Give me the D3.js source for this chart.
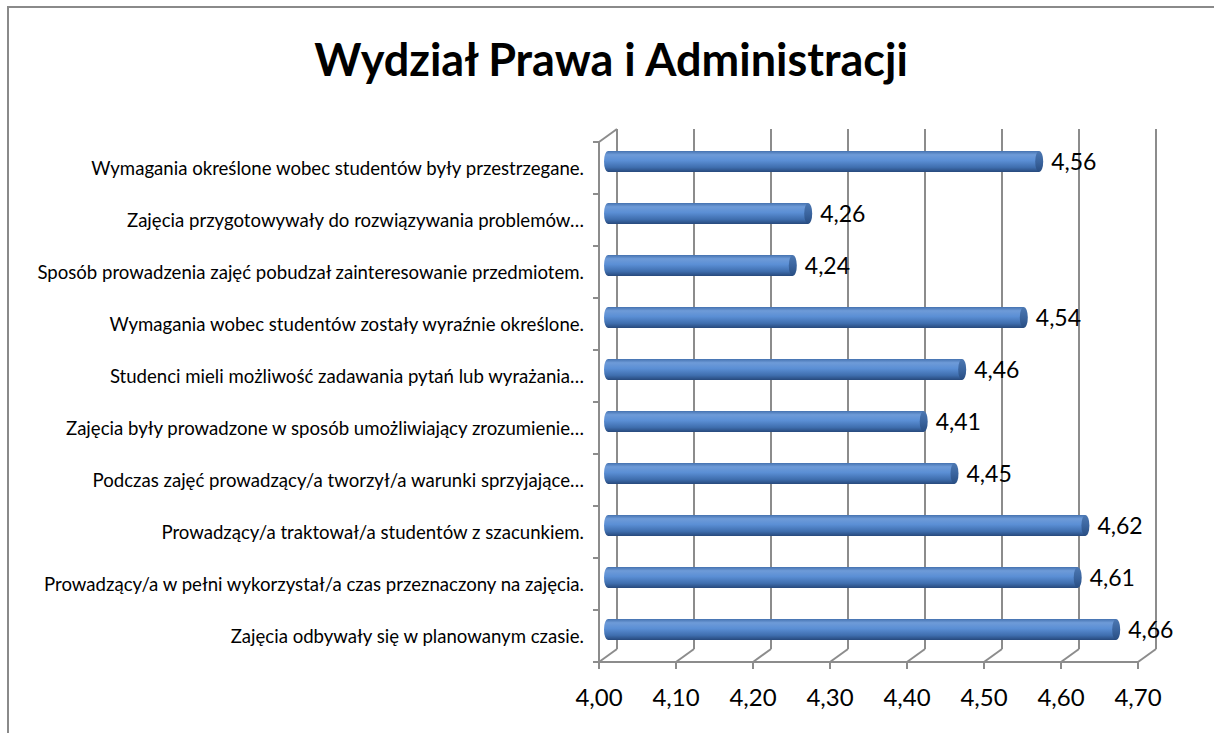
<!DOCTYPE html>
<html>
<head>
<meta charset="utf-8">
<script src="https://cdn.jsdelivr.net/npm/d3@7"></script>
<style>
  html, body { margin: 0; padding: 0; background: #fff; overflow: hidden; }
  svg { display: block; font-family: Lato, "Open Sans", sans-serif; }
</style>
</head>
<body>
<div id="vis"></div>
<script>
// chart data, top row first
var categories = [
  "Wymagania określone wobec studentów były przestrzegane.",
  "Zajęcia przygotowywały do rozwiązywania problemów…",
  "Sposób prowadzenia zajęć pobudzał zainteresowanie przedmiotem.",
  "Wymagania wobec studentów zostały wyraźnie określone.",
  "Studenci mieli możliwość zadawania pytań lub wyrażania…",
  "Zajęcia były prowadzone w sposób umożliwiający zrozumienie…",
  "Podczas zajęć prowadzący/a tworzył/a warunki sprzyjające…",
  "Prowadzący/a traktował/a studentów z szacunkiem.",
  "Prowadzący/a w pełni wykorzystał/a czas przeznaczony na zajęcia.",
  "Zajęcia odbywały się w planowanym czasie."
];
var values = [4.56, 4.26, 4.24, 4.54, 4.46, 4.41, 4.45, 4.62, 4.61, 4.66];
var xTicks = [4.00, 4.10, 4.20, 4.30, 4.40, 4.50, 4.60, 4.70];
var title = "Wydział Prawa i Administracji";

var width = 1214, height = 733;
// front plane of the 3d box
var margin = {left: 599, right: 1138, top: 142, bottom: 662};
var depth = {dx: 18, dy: -13};
var barH = 21;

var svg = d3.select("#vis").append("svg")
    .attr("width", width)
    .attr("height", height);

// outer chart border (runs off the right and bottom edge)
svg.append("rect")
    .attr("x", 8).attr("y", 7)
    .attr("width", 1240).attr("height", 760)
    .attr("fill", "none")
    .attr("stroke", "#8a8a8a")
    .attr("stroke-width", 2);

// title
svg.append("text")
    .attr("x", 611).attr("y", 76)
    .attr("text-anchor", "middle")
    .style("font-size", "45px")
    .style("font-weight", "bold")
    .text(title);

var x = d3.scaleLinear().domain([4.0, 4.7]).range([margin.left, margin.right]);
var y = d3.scaleBand().domain(categories).range([margin.top, margin.bottom]);
var fmt = function(v) { return d3.format(".2f")(v).replace(".", ","); };

var grid = svg.append("g")
    .attr("stroke", "#8c8c8c")
    .attr("stroke-width", 2)
    .attr("fill", "none");

// back wall gridlines
grid.selectAll(".vgrid")
  .data(xTicks)
  .enter().append("line")
    .attr("x1", function(d) { return x(d) + depth.dx; })
    .attr("x2", function(d) { return x(d) + depth.dx; })
    .attr("y1", margin.top + depth.dy)
    .attr("y2", margin.bottom + depth.dy);

// floor diagonals
grid.selectAll(".diag")
  .data(xTicks)
  .enter().append("line")
    .attr("x1", function(d) { return x(d); })
    .attr("x2", function(d) { return x(d) + depth.dx; })
    .attr("y1", margin.bottom)
    .attr("y2", margin.bottom + depth.dy);

// left wall top diagonal
grid.append("line")
    .attr("x1", margin.left).attr("y1", margin.top)
    .attr("x2", margin.left + depth.dx).attr("y2", margin.top + depth.dy);

// front axes
grid.append("line")
    .attr("x1", margin.left).attr("x2", margin.left)
    .attr("y1", margin.top).attr("y2", margin.bottom);
grid.append("line")
    .attr("x1", margin.left).attr("x2", margin.right)
    .attr("y1", margin.bottom).attr("y2", margin.bottom);

// ticks on the category axis (band edges)
var edges = categories.map(function(c) { return y(c); }).concat([margin.bottom]);
grid.selectAll(".ytick")
  .data(edges)
  .enter().append("line")
    .attr("x1", margin.left - 6).attr("x2", margin.left)
    .attr("y1", function(d) { return d; })
    .attr("y2", function(d) { return d; });

// ticks on the value axis
grid.selectAll(".xtick")
  .data(xTicks)
  .enter().append("line")
    .attr("x1", function(d) { return x(d); })
    .attr("x2", function(d) { return x(d); })
    .attr("y1", margin.bottom)
    .attr("y2", margin.bottom + 7);

// value axis labels
svg.selectAll(".xlab")
  .data(xTicks)
  .enter().append("text")
    .attr("x", function(d) { return x(d); })
    .attr("y", 706)
    .attr("text-anchor", "middle")
    .style("font-size", "24px")
    .text(fmt);

// category labels
svg.selectAll(".ylab")
  .data(categories)
  .enter().append("text")
    .attr("x", 584)
    .attr("y", function(d) { return y(d) + y.bandwidth() / 2; })
    .attr("dy", "0.35em")
    .attr("text-anchor", "end")
    .style("font-size", "18.6px")
    .text(function(d) { return d; });

// cylinder gradients
var defs = svg.append("defs");
var body = defs.append("linearGradient")
    .attr("id", "barBody")
    .attr("x1", 0).attr("y1", 0).attr("x2", 0).attr("y2", 1);
[["0%", "#4572b0"], ["18%", "#6e9bd8"], ["45%", "#5b8fd5"], ["78%", "#3f6eae"], ["100%", "#27497c"]]
  .forEach(function(s) { body.append("stop").attr("offset", s[0]).attr("stop-color", s[1]); });
var cap = defs.append("linearGradient")
    .attr("id", "barCap")
    .attr("x1", 0).attr("y1", 0).attr("x2", 0).attr("y2", 1);
[["0%", "#4d78b2"], ["50%", "#3b659f"], ["100%", "#284d82"]]
  .forEach(function(s) { cap.append("stop").attr("offset", s[0]).attr("stop-color", s[1]); });

var rows = categories.map(function(c, i) { return {cat: c, value: values[i]}; });
var bx = depth.dx / 2, by = depth.dy / 2, capR = 4;

var bars = svg.selectAll(".bar")
  .data(rows)
  .enter().append("g")
    .attr("transform", function(d) {
      return "translate(" + bx + "," + (y(d.cat) + y.bandwidth() / 2 + by) + ")";
    });

bars.append("ellipse")
    .attr("cx", x(4.0))
    .attr("cy", 0)
    .attr("rx", capR).attr("ry", barH / 2)
    .attr("fill", "url(#barBody)");

bars.append("rect")
    .attr("x", x(4.0))
    .attr("y", -barH / 2)
    .attr("width", function(d) { return x(d.value) - x(4.0); })
    .attr("height", barH)
    .attr("fill", "url(#barBody)");

bars.append("ellipse")
    .attr("cx", function(d) { return x(d.value); })
    .attr("cy", 0)
    .attr("rx", capR).attr("ry", barH / 2)
    .attr("fill", "url(#barCap)");

// value labels
bars.append("text")
    .attr("x", function(d) { return x(d.value) + capR + 8; })
    .attr("y", 0)
    .attr("dy", "0.35em")
    .style("font-size", "23px")
    .text(function(d) { return fmt(d.value); });
</script>
</body>
</html>
